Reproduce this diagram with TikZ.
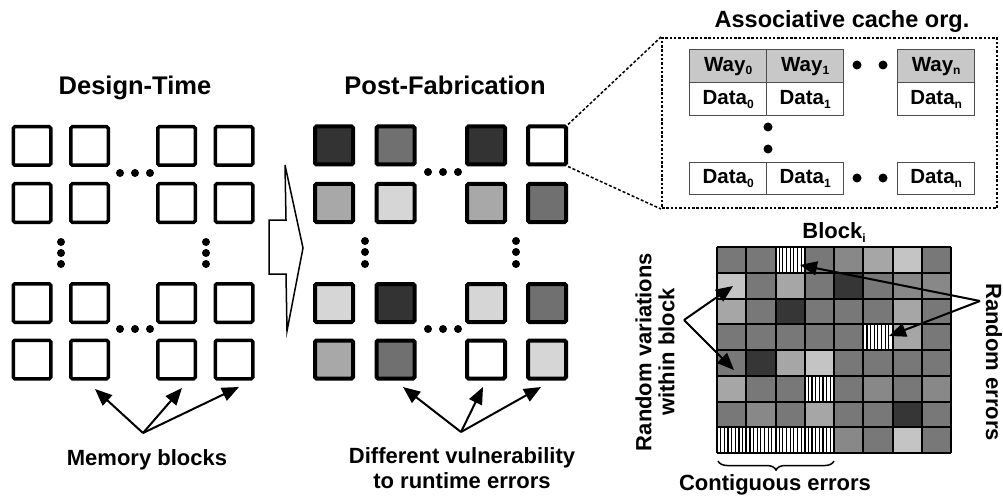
\documentclass[tikz,border=0pt]{standalone}
\usepackage{fontspec}
\setmainfont{Liberation Sans}
\usetikzlibrary{arrows.meta,decorations.pathreplacing}

% grey levels
\definecolor{gD}{HTML}{333333}
\definecolor{gM}{HTML}{707070}
\definecolor{gA}{HTML}{A8A8A8}
\definecolor{gL}{HTML}{D6D6D6}
\definecolor{gr1}{HTML}{363636}
\definecolor{gr2}{HTML}{787878}
\definecolor{gr3}{HTML}{888888}
\definecolor{gr4}{HTML}{A6A6A6}
\definecolor{gr5}{HTML}{C4C4C4}
\definecolor{wayfill}{HTML}{C8C8C8}
\definecolor{cellline}{HTML}{4D4D4D}

\newcommand\subtxt[1]{\raisebox{-0.35ex}{\fontsize{12}{12}\selectfont #1}}

\begin{document}
\begin{tikzpicture}[x=1pt,y=-1pt,
  memsq/.style={draw=black, line width=3.5pt, minimum width=37.5pt, minimum height=38.5pt,
                inner sep=0pt, rounded corners=1.5pt},
  postsq/.style={draw=black, line width=4pt, minimum width=38pt, minimum height=38pt,
                inner sep=0pt, rounded corners=1.5pt},
  callout/.style={-{Triangle[length=17pt,width=14pt]}, line width=2pt},
  title/.style={font=\fontsize{25.5}{30}\selectfont\bfseries, inner sep=0pt, anchor=base},
  lbl/.style={font=\fontsize{22}{23}\selectfont\bfseries, inner sep=0pt, align=center},
  cell/.style={draw=cellline, line width=1.3pt, minimum width=77pt, minimum height=33pt,
               inner sep=0pt, font=\fontsize{20.5}{24}\selectfont\bfseries, anchor=north west},
  zoomline/.style={line width=1.5pt, dash pattern=on 3pt off 2pt},
]
\useasboundingbox (0,0) rectangle (1003,497);

% ---------- design-time array ----------
\node[title] (dtitle) at (135,95) {Design-Time};
\foreach \cy [count=\r] in {146,203,303,359.5}
  \foreach \cx [count=\c] in {32,89.5,176.5,234}
    \node[memsq] (d\r\c) at (\cx,\cy) {};
\foreach \x in {120,135,150} {
  \fill (\x,173) circle (4pt);
  \fill (\x,329) circle (4pt);
}
\foreach \y in {242,253,264} {
  \fill (61,\y) circle (4pt);
  \fill (206,\y) circle (4pt);
}

% ---------- transition arrow ----------
\draw[line width=1.5pt, line join=miter]
  (269,220) -- (286,220) -- (285,165) -- (303,248) -- (287,331) -- (286,274) -- (269,274) -- cycle;

% ---------- post-fabrication array ----------
\node[title] (ptitle) at (445,95) {Post-Fabrication};
\foreach \cy/\fa/\fb/\fc/\fd [count=\r] in
  {145.5/gD/gM/gD/white, 203/gA/gL/gA/gM, 303/gL/gD/gL/gM, 359.5/gA/gM/white/gL} {
  \node[postsq, fill=\fa] (p\r1) at (334,\cy) {};
  \node[postsq, fill=\fb] (p\r2) at (395.5,\cy) {};
  \node[postsq, fill=\fc] (p\r3) at (486,\cy) {};
  \node[postsq, fill=\fd] (p\r4) at (547,\cy) {};
}
\foreach \x in {428,443,458} {
  \fill (\x,172) circle (4pt);
  \fill (\x,329) circle (4pt);
}
\foreach \y in {241,252,264} {
  \fill (365,\y) circle (4pt);
  \fill (516,\y) circle (4pt);
}

% ---------- bottom labels with callouts ----------
\node[lbl, anchor=base] (mblabel) at (147,465) {Memory blocks};
\coordinate (mbsrc) at (143,433);
\coordinate (mbt1) at (95,389);
\coordinate (mbt2) at (182,388);
\coordinate (mbt3) at (239,387);
\foreach \t in {mbt1,mbt2,mbt3} \draw[callout] (mbsrc) -- (\t);

\node[lbl, anchor=base] (dvlabel) at (462,463) {Different vulnerability};
\node[lbl, anchor=base] (dvlabelb) at (462,488) {to runtime errors};
\coordinate (dvsrc) at (461,432);
\coordinate (dvt1) at (403,387);
\coordinate (dvt2) at (483,387);
\coordinate (dvt3) at (541,387);
\foreach \t in {dvt1,dvt2,dvt3} \draw[callout] (dvsrc) -- (\t);

% ---------- associative cache organisation ----------
\node[font=\fontsize{23.5}{28}\selectfont\bfseries, inner sep=0pt, anchor=base] (ctitle)
  at (842,28) {Associative cache org.};
\node[draw, line width=2pt, dash pattern=on 2.5pt off 1.8pt, minimum width=335pt,
      minimum height=170pt, inner sep=0pt] (cache) at (829.5,123) {};
\draw[zoomline] (p14.north east) -- (cache.north west);
\draw[zoomline] (p14.south east) -- (cache.south west);

\node[cell, fill=wayfill] (w0) at (689,49) {Way\subtxt{0}};
\node[cell, fill=wayfill] (w1) at (766,49) {Way\subtxt{1}};
\node[cell, fill=wayfill] (wn) at (897,49) {Way\subtxt{n}};
\node[cell] (a0) at (689,82) {Data\subtxt{0}};
\node[cell] (a1) at (766,82) {Data\subtxt{1}};
\node[cell] (an) at (897,82) {Data\subtxt{n}};
\node[cell, minimum height=32pt] (b0) at (689,162) {Data\subtxt{0}};
\node[cell, minimum height=32pt] (b1) at (766,162) {Data\subtxt{1}};
\node[cell, minimum height=32pt] (bn) at (897,162) {Data\subtxt{n}};
\foreach \x in {857,883} {
  \fill (\x,65) circle (4.5pt);
  \fill (\x,178) circle (4.5pt);
}
\fill (768,127) circle (4.5pt);
\fill (768,149) circle (4.5pt);

% ---------- block detail ----------
\node[lbl, anchor=base] (blklabel) at (834,238) {Block\subtxt{i}};
\foreach \rowvals [count=\r] in {
    {2,2,0,2,3,4,5,2},
    {5,2,4,2,1,2,3,3},
    {4,2,1,2,2,2,4,2},
    {2,2,2,2,2,0,4,2},
    {2,1,4,5,2,2,2,2},
    {4,2,2,0,2,3,2,3},
    {2,3,2,4,2,2,1,2},
    {0,0,0,0,3,2,5,2}} {
  \foreach \v [count=\c] in \rowvals {
    \pgfmathsetmacro\xl{717+(\c-1)*29.25}
    \pgfmathsetmacro\yt{247+(\r-1)*25.75}
    \ifnum\v=0
      \fill[white] (\xl,\yt) rectangle ++(29.25,25.75);
      \foreach \k in {1,...,7}
        \draw[line width=1.2pt] (\xl+\k*3.656,\yt) -- ++(0,25.75);
    \else
      \fill[gr\v] (\xl,\yt) rectangle ++(29.25,25.75);
    \fi
  }
}
\foreach \i in {0,...,8} {
  \draw[line width=2pt] (717+\i*29.25,247) -- (717+\i*29.25,453);
  \draw[line width=2pt] (717,247+\i*25.75) -- (951,247+\i*25.75);
}
\node[minimum width=234pt, minimum height=206pt, inner sep=0pt] (blk) at (834,350) {};

\node[lbl, rotate=90] (rvlabel) at (655,352) {Random variations\\within block};
\coordinate (rvsrc) at (684,320);
\coordinate (rvt1) at (733,286);
\coordinate (rvt2) at (734,370);
\draw[callout] (rvsrc) -- (rvt1);
\draw[callout] (rvsrc) -- (rvt2);

\node[lbl, rotate=-90] (relabel) at (994,362) {Random errors};
\coordinate (resrc) at (980,301);
\coordinate (ret1) at (800,265);
\coordinate (ret2) at (889,336);
\draw[callout] (resrc) -- (ret1);
\draw[callout] (resrc) -- (ret2);

\coordinate (brl) at (718,461);
\coordinate (brr) at (834,461);
\draw[line width=1.5pt, decorate, decoration={brace, mirror, amplitude=9pt}] (brl) -- (brr);
\node[lbl, anchor=base] (cglabel) at (775,490) {Contiguous errors};
\end{tikzpicture}
\end{document}
